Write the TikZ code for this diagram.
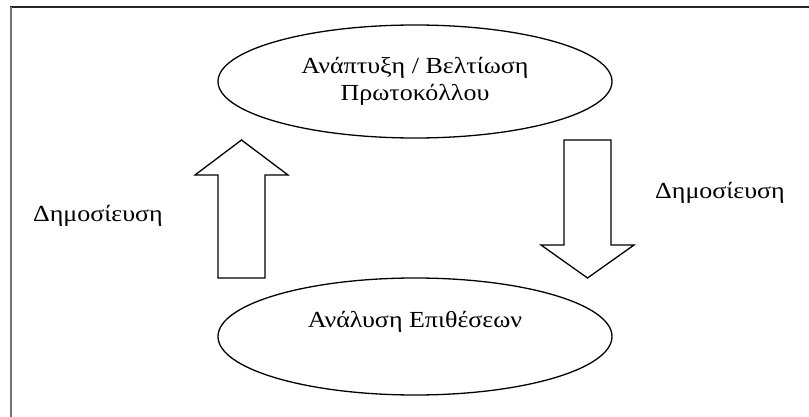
\documentclass[tikz,border=0pt]{standalone}
\usepackage{fontspec}
\setmainfont{Liberation Serif}[FakeStretch=1.13]
\usetikzlibrary{shapes.geometric}
\begin{document}
\begin{tikzpicture}[x=1pt,y=-1pt,
  stage/.style={draw,ellipse,line width=1.3pt,inner sep=0pt,align=center,
    font=\fontsize{23}{27}\selectfont},
  label/.style={inner sep=0pt,font=\fontsize{23}{27}\selectfont},
  blockarrow/.style={draw,fill=white,line width=1.3pt,line join=miter}]
  \useasboundingbox (0,0) rectangle (809,417);
  % page frame
  \draw[line width=1.6pt,black!85] (10,7) -- (809,7);
  \draw[line width=2pt,black!55] (11,7) -- (11,417);

  % the two stages
  \node[stage,minimum width=394,minimum height=113] (dev) at (415,81.5)
    {Ανάπτυξη / Βελτίωση\\Πρωτοκόλλου};
  \node[stage,minimum width=394,minimum height=117] (ana) at (415,336.5)
    {Ανάλυση Επιθέσεων\\\strut};

  % block arrows between the stages
  \draw[blockarrow] (218,278) -- (218,175) -- (195,175) -- (241.5,140)
    -- (288,175) -- (265,175) -- (265,278) -- cycle;
  \draw[blockarrow] (564,140) -- (564,245) -- (541,245) -- (587.5,278)
    -- (634,245) -- (611,245) -- (611,140) -- cycle;

  % labels
  \node[label,anchor=base] (pubL) at (98,222) {Δημοσίευση};
  \node[label,anchor=base] (pubR) at (720,198) {Δημοσίευση};
\end{tikzpicture}
\end{document}
